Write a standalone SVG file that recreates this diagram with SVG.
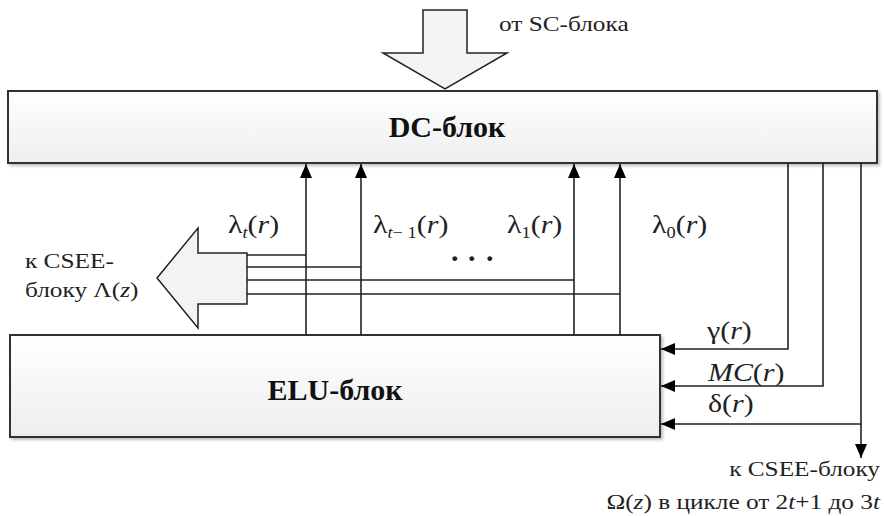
<svg xmlns="http://www.w3.org/2000/svg" width="884" height="516" viewBox="0 0 884 516">
<defs>
<linearGradient id="g" x1="0" y1="0" x2="0" y2="1">
<stop offset="0" stop-color="#ffffff"/>
<stop offset="1" stop-color="#eeeeee"/>
</linearGradient>
<marker id="ah" viewBox="0 0 14 12" refX="14" refY="6" markerWidth="14" markerHeight="12" markerUnits="userSpaceOnUse" orient="auto">
<path d="M0,0 L14,6 L0,12 Z" fill="#000"/>
</marker>
<filter id="sh" x="-5%" y="-10%" width="110%" height="130%">
<feDropShadow dx="2" dy="2" stdDeviation="1.5" flood-color="#000" flood-opacity="0.25"/>
</filter>
</defs>
<style>
.box{fill:url(#g);stroke:#333;stroke-width:2;filter:url(#sh)}
.big{fill:#f3f3f3;stroke:#222;stroke-width:1.5}
.ln{stroke:#222;stroke-width:1.6;fill:none}
.arr{stroke:#222;stroke-width:1.6;fill:none;marker-end:url(#ah)}
text{font-family:'Liberation Serif','Times New Roman',serif;fill:#222}
.t{font-size:22px}
.m{font-size:26px}
.b{font-size:30px;font-weight:bold;fill:#111}
</style>
<g id="dc-block">
<rect class="box" x="8" y="91" width="869" height="72"/>
<text class="b" x="447" y="137" text-anchor="middle">DC-блок</text>
</g>
<g id="elu-block">
<rect class="box" x="10" y="335" width="650" height="102"/>
<text class="b" x="335" y="400" text-anchor="middle">ELU-блок</text>
</g>
<g id="sc-input">
<path class="big" d="M423,10 H467 V53 H507 L445,89 L383,53 H423 Z"/>
<text class="t" transform="translate(499,31) scale(1.15,1)">от SC-блока</text>
</g>
<g id="csee-lambda-output">
<path class="big" d="M247,253 V304 H198 V328 L157,278 L198,228 V253 Z"/>
<text class="t" transform="translate(25,268) scale(1.15,1)">к CSEE-</text>
<text class="t" transform="translate(25,297) scale(1.15,1)">блоку Λ(<tspan font-style="italic">z</tspan>)</text>
</g>
<g id="connectors">
<line class="arr" x1="306" y1="335" x2="306" y2="164"/>
<line class="arr" x1="361" y1="335" x2="361" y2="164"/>
<line class="arr" x1="574" y1="335" x2="574" y2="164"/>
<line class="arr" x1="620" y1="335" x2="620" y2="164"/>
<line class="ln" x1="247" y1="255" x2="306" y2="255"/>
<line class="ln" x1="247" y1="267" x2="361" y2="267"/>
<line class="ln" x1="247" y1="280" x2="574" y2="280"/>
<line class="ln" x1="247" y1="294" x2="620" y2="294"/>
<polyline class="arr" points="788,163 788,349 661,349"/>
<polyline class="arr" points="823,163 823,386 661,386"/>
<polyline class="arr" points="861,163 861,424 661,424"/>
<line class="arr" x1="861" y1="424" x2="861" y2="458"/>
</g>
<g id="labels">
<text class="m" transform="translate(228,233) scale(1.15,1)">λ<tspan font-size="16" font-style="italic" dy="5">t</tspan><tspan dy="-5">(</tspan><tspan font-style="italic">r</tspan>)</text>
<text class="m" transform="translate(373,233) scale(1.15,1)">λ<tspan font-size="16" dy="5"><tspan font-style="italic">t</tspan>− 1</tspan><tspan dy="-5">(</tspan><tspan font-style="italic">r</tspan>)</text>
<text class="m" transform="translate(507,233) scale(1.15,1)">λ<tspan font-size="16" dy="5">1</tspan><tspan dy="-5">(</tspan><tspan font-style="italic">r</tspan>)</text>
<text class="m" transform="translate(652,233) scale(1.15,1)">λ<tspan font-size="16" dy="5">0</tspan><tspan dy="-5">(</tspan><tspan font-style="italic">r</tspan>)</text>
<text font-size="30" font-weight="bold" x="451 468 486" y="261">...</text>
<text class="m" transform="translate(707,339) scale(1.15,1)">γ(<tspan font-style="italic">r</tspan>)</text>
<text class="m" transform="translate(708,381) scale(1.15,1)"><tspan font-style="italic">MC</tspan>(<tspan font-style="italic">r</tspan>)</text>
<text class="m" transform="translate(708,412) scale(1.15,1)">δ(<tspan font-style="italic">r</tspan>)</text>
<text class="t" text-anchor="end" transform="translate(880,476) scale(1.15,1)">к CSEE-блоку</text>
<text class="t" text-anchor="end" transform="translate(880,509) scale(1.15,1)">Ω(<tspan font-style="italic">z</tspan>) в цикле от 2<tspan font-style="italic">t</tspan>+1 до 3<tspan font-style="italic">t</tspan></text>
</g>
</svg>
